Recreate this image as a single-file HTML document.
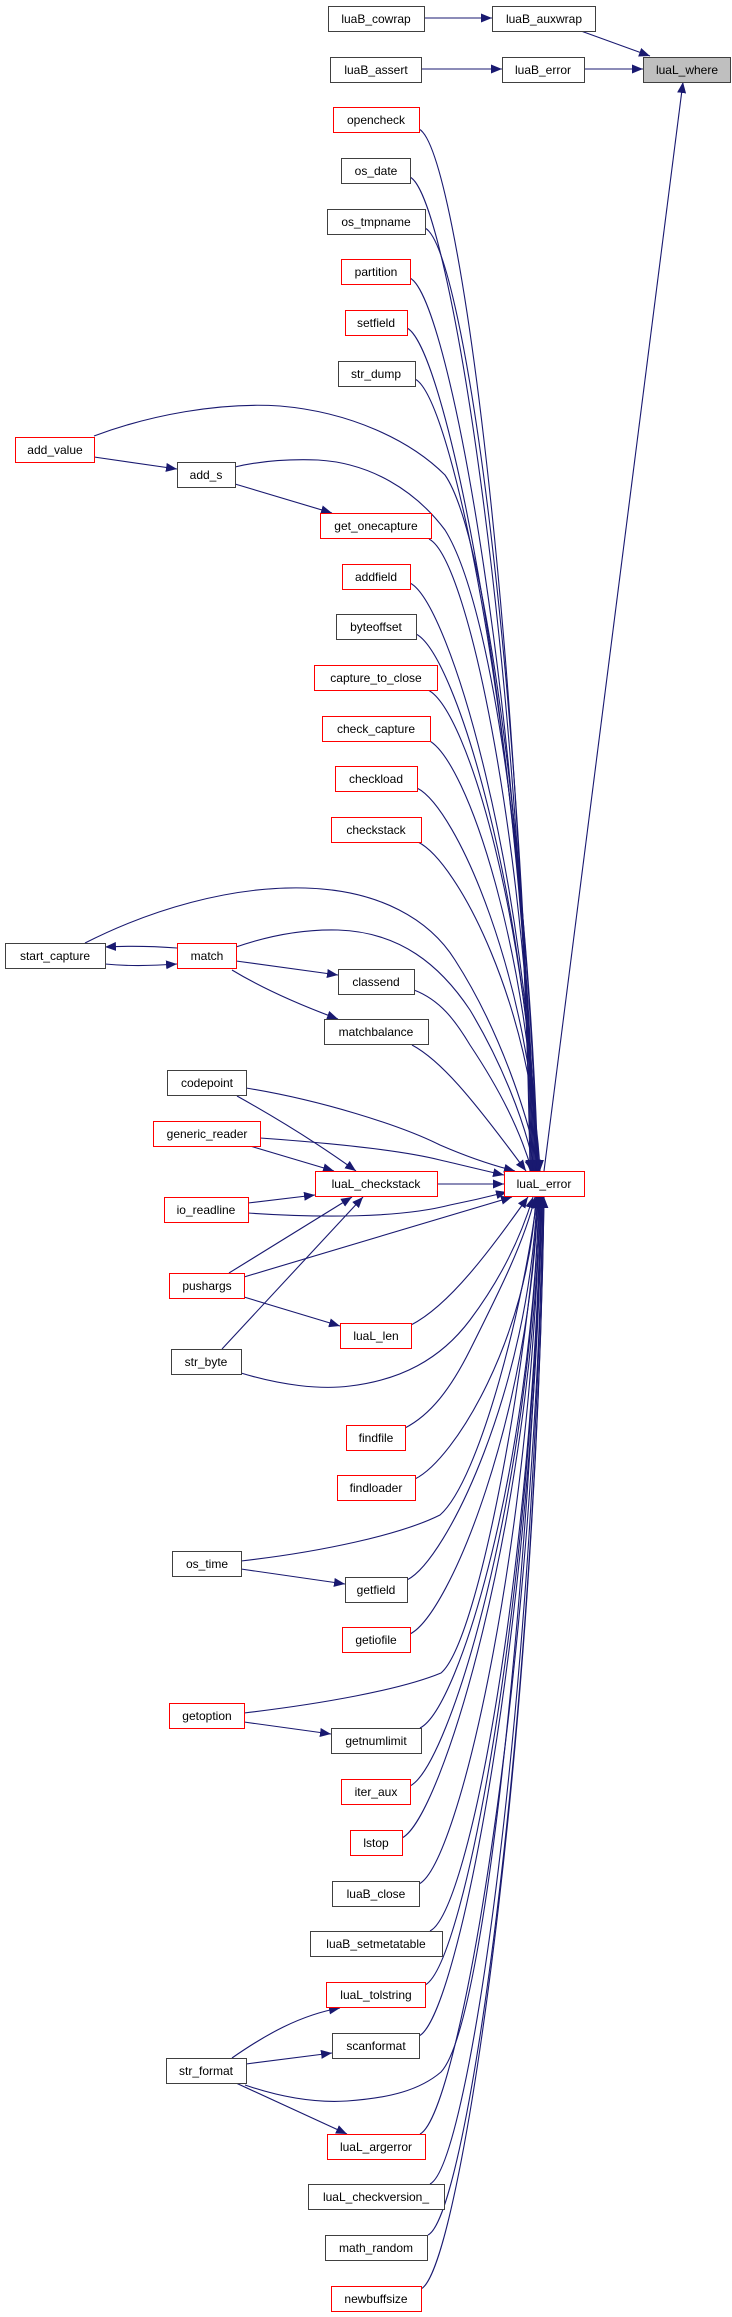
<!DOCTYPE html>
<html><head><meta charset="utf-8"><style>html,body{margin:0;padding:0;background:#fff}svg{display:block}</style></head><body>
<svg width="732" height="2317" viewBox="0 0 732 2317" xmlns="http://www.w3.org/2000/svg">
<defs><marker id="a" markerUnits="userSpaceOnUse" markerWidth="12" markerHeight="9" refX="11" refY="4.5" orient="auto"><path d="M0,0 L11,4.5 L0,9 z" fill="#191970"/></marker></defs>
<g fill="none" stroke="#191970" stroke-width="1.1" marker-end="url(#a)">
<path d="M424,18 L492,18"/>
<path d="M581,31 L650,56"/>
<path d="M421,69 L502,69"/>
<path d="M584,69 L643,69"/>
<path d="M544,1171 L683,82"/>
<path d="M94,457 L177,469"/>
<path d="M235,484 L332,513"/>
<path d="M177,948 C150,946 125,946 105,947"/>
<path d="M105,964 C125,966 150,966 177,964"/>
<path d="M236,961 L338,975"/>
<path d="M232,970 C265,990 300,1005 338,1019"/>
<path d="M237,1096 C280,1120 320,1145 356,1171"/>
<path d="M250,1146 L334,1171"/>
<path d="M248,1203 L315,1195"/>
<path d="M229,1273 L352,1197"/>
<path d="M222,1349 L363,1197"/>
<path d="M244,1297 L340,1326"/>
<path d="M241,1569 L345,1584"/>
<path d="M244,1722 L331,1734"/>
<path d="M232,2058 C265,2035 300,2015 340,2008"/>
<path d="M246,2064 L332,2053"/>
<path d="M236,2083 L347,2134"/>
<path d="M437,1184 L504,1184"/>
<path d="M419,129 C459,149 522,650 530,1171"/>
<path d="M410,177 C450,197 523,674 531,1171"/>
<path d="M425,228 C465,248 524,700 532,1171"/>
<path d="M410,278 C450,298 525,725 533,1171"/>
<path d="M407,328 C447,348 526,750 534,1171"/>
<path d="M415,379 C455,399 527,775 535,1171"/>
<path d="M94,436 C150,415 220,402 280,406 C350,412 410,440 445,475 C490,540 530,900 537,1171"/>
<path d="M235,467 C260,461 290,459 318,460 C370,463 415,490 445,530 C495,610 530,900 538,1171"/>
<path d="M429,539 C469,559 528,855 536,1171"/>
<path d="M410,583 C450,603 529,877 537,1171"/>
<path d="M416,634 C456,654 529,902 537,1171"/>
<path d="M428,690 C468,710 530,930 538,1171"/>
<path d="M428,740 C468,760 530,955 538,1171"/>
<path d="M417,788 C457,808 531,980 539,1171"/>
<path d="M418,842 C458,862 532,1006 540,1171"/>
<path d="M85,943 C150,910 230,886 305,888 C380,890 430,920 455,960 C500,1030 530,1120 538,1171"/>
<path d="M236,947 C265,937 300,929 338,930 C400,932 440,965 470,1010 C500,1060 525,1120 535,1171"/>
<path d="M414,990 C440,1000 455,1020 470,1045 C500,1090 520,1130 532,1171"/>
<path d="M412,1045 C440,1060 470,1095 526,1171"/>
<path d="M246,1088 C320,1100 400,1125 440,1145 C470,1158 495,1166 515,1171"/>
<path d="M260,1138 C330,1143 400,1150 440,1160 C470,1167 490,1172 504,1175"/>
<path d="M248,1213 C320,1218 400,1218 450,1205 C480,1199 495,1195 507,1192"/>
<path d="M244,1277 C330,1252 420,1225 512,1197"/>
<path d="M411,1325 C450,1305 490,1250 528,1197"/>
<path d="M241,1373 C280,1385 320,1390 350,1386 C400,1380 440,1360 470,1320 C500,1280 520,1240 533,1197"/>
<path d="M405,1428 C430,1415 450,1390 470,1350 C500,1290 525,1240 535,1197"/>
<path d="M415,1479 C455,1459 528,1338 536,1197"/>
<path d="M241,1561 C320,1552 400,1535 440,1515 C480,1480 525,1300 537,1197"/>
<path d="M407,1580 C447,1560 529,1388 537,1197"/>
<path d="M410,1634 C450,1614 530,1415 538,1197"/>
<path d="M244,1713 C320,1704 400,1690 441,1673 C480,1640 530,1350 538,1197"/>
<path d="M420,1728 C460,1708 531,1462 539,1197"/>
<path d="M410,1786 C450,1766 531,1491 539,1197"/>
<path d="M402,1838 C442,1818 532,1517 540,1197"/>
<path d="M419,1884 C459,1864 532,1540 540,1197"/>
<path d="M430,1931 C470,1911 533,1564 541,1197"/>
<path d="M425,1985 C465,1965 533,1591 541,1197"/>
<path d="M419,2036 C459,2016 534,1616 542,1197"/>
<path d="M245,2085 C280,2097 315,2103 347,2101 C390,2098 420,2090 441,2072 C490,2020 534,1500 542,1197"/>
<path d="M420,2134 C460,2114 535,1665 543,1197"/>
<path d="M430,2184 C470,2164 535,1690 543,1197"/>
<path d="M428,2235 C468,2215 536,1716 544,1197"/>
<path d="M421,2289 C461,2269 536,1743 544,1197"/>
</g>
<g font-family="Liberation Sans, sans-serif" font-size="12" text-anchor="middle" fill="#000" stroke-width="1">
<g fill="#fff" stroke="#404040">
<rect x="328.5" y="6.5" width="96" height="25"/><rect x="492.5" y="6.5" width="103" height="25"/>
<rect x="330.5" y="57.5" width="91" height="25"/><rect x="502.5" y="57.5" width="82" height="25"/>
<rect x="643.5" y="57.5" width="87" height="25" fill="#bfbfbf"/>
<rect x="341.5" y="158.5" width="69" height="25"/><rect x="327.5" y="209.5" width="98" height="25"/>
<rect x="338.5" y="361.5" width="77" height="25"/><rect x="177.5" y="462.5" width="58" height="25"/>
<rect x="336.5" y="614.5" width="80" height="25"/><rect x="5.5" y="943.5" width="100" height="25"/>
<rect x="338.5" y="969.5" width="76" height="25"/><rect x="324.5" y="1019.5" width="104" height="25"/>
<rect x="167.5" y="1070.5" width="79" height="25"/><rect x="171.5" y="1349.5" width="70" height="25"/>
<rect x="172.5" y="1551.5" width="69" height="25"/><rect x="345.5" y="1577.5" width="62" height="25"/>
<rect x="331.5" y="1728.5" width="90" height="25"/><rect x="332.5" y="1881.5" width="87" height="25"/>
<rect x="310.5" y="1931.5" width="132" height="25"/><rect x="332.5" y="2033.5" width="87" height="25"/>
<rect x="166.5" y="2058.5" width="80" height="25"/><rect x="308.5" y="2184.5" width="136" height="25"/>
<rect x="325.5" y="2235.5" width="102" height="25"/>
</g>
<g fill="#fff" stroke="#ff0000">
<rect x="333.5" y="107.5" width="86" height="25"/><rect x="341.5" y="259.5" width="69" height="25"/>
<rect x="345.5" y="310.5" width="62" height="25"/><rect x="15.5" y="437.5" width="79" height="25"/>
<rect x="320.5" y="513.5" width="111" height="25"/><rect x="342.5" y="564.5" width="68" height="25"/>
<rect x="314.5" y="665.5" width="123" height="25"/><rect x="322.5" y="716.5" width="108" height="25"/>
<rect x="335.5" y="766.5" width="82" height="25"/><rect x="331.5" y="817.5" width="90" height="25"/>
<rect x="177.5" y="943.5" width="59" height="25"/><rect x="153.5" y="1121.5" width="107" height="25"/>
<rect x="315.5" y="1171.5" width="122" height="25"/><rect x="504.5" y="1171.5" width="80" height="25"/>
<rect x="164.5" y="1197.5" width="84" height="25"/><rect x="169.5" y="1273.5" width="75" height="25"/>
<rect x="340.5" y="1323.5" width="71" height="25"/><rect x="346.5" y="1425.5" width="59" height="25"/>
<rect x="337.5" y="1475.5" width="78" height="25"/><rect x="342.5" y="1627.5" width="68" height="25"/>
<rect x="169.5" y="1703.5" width="75" height="25"/><rect x="341.5" y="1779.5" width="69" height="25"/>
<rect x="350.5" y="1830.5" width="52" height="25"/><rect x="326.5" y="1982.5" width="99" height="25"/>
<rect x="327.5" y="2134.5" width="98" height="25"/><rect x="331.5" y="2286.5" width="90" height="25"/>
</g>
<text x="376" y="23">luaB_cowrap</text><text x="544" y="23">luaB_auxwrap</text>
<text x="376" y="74">luaB_assert</text><text x="543" y="74">luaB_error</text><text x="687" y="74">luaL_where</text>
<text x="376" y="124">opencheck</text><text x="376" y="175">os_date</text><text x="376" y="226">os_tmpname</text>
<text x="376" y="276">partition</text><text x="376" y="327">setfield</text><text x="376" y="378">str_dump</text>
<text x="55" y="454">add_value</text><text x="206" y="479">add_s</text><text x="376" y="530">get_onecapture</text>
<text x="376" y="581">addfield</text><text x="376" y="631">byteoffset</text><text x="376" y="682">capture_to_close</text>
<text x="376" y="733">check_capture</text><text x="376" y="783">checkload</text><text x="376" y="834">checkstack</text>
<text x="55" y="960">start_capture</text><text x="207" y="960">match</text><text x="376" y="986">classend</text>
<text x="376" y="1036">matchbalance</text><text x="207" y="1087">codepoint</text><text x="207" y="1138">generic_reader</text>
<text x="376" y="1188">luaL_checkstack</text><text x="544" y="1188">luaL_error</text><text x="206" y="1214">io_readline</text>
<text x="207" y="1290">pushargs</text><text x="376" y="1340">luaL_len</text><text x="206" y="1366">str_byte</text>
<text x="376" y="1442">findfile</text><text x="376" y="1492">findloader</text><text x="207" y="1568">os_time</text>
<text x="376" y="1594">getfield</text><text x="376" y="1644">getiofile</text><text x="207" y="1720">getoption</text>
<text x="376" y="1745">getnumlimit</text><text x="376" y="1796">iter_aux</text><text x="376" y="1847">lstop</text>
<text x="376" y="1898">luaB_close</text><text x="376" y="1948">luaB_setmetatable</text><text x="376" y="1999">luaL_tolstring</text>
<text x="376" y="2050">scanformat</text><text x="206" y="2075">str_format</text><text x="376" y="2151">luaL_argerror</text>
<text x="376" y="2201">luaL_checkversion_</text><text x="376" y="2252">math_random</text><text x="376" y="2303">newbuffsize</text>
</g>
</svg>
</body></html>
